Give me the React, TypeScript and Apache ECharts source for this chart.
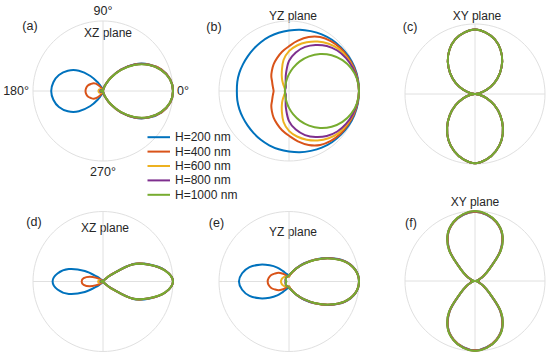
import React, { useEffect, useRef } from 'react';
import * as echarts from 'echarts';

const SERIES_NAMES = ['H=200 nm', 'H=400 nm', 'H=600 nm', 'H=800 nm', 'H=1000 nm'];
const COLORS = ['#0072BD', '#D95319', '#EDB120', '#7E2F8E', '#77AC30'];
const STEP = 10; // degrees between samples
const ANGLE_TICK_LABELS = ['0°', '90°', '180°', '270°'];

// Radii (0..1) at angles 0,10,...,180 deg (pattern symmetric about the 0-180 axis)
// (a) XZ plane
const A_BLUE = [1.0, 0.975, 0.89, 0.76, 0.595, 0.4, 0.22, 0.09, 0.02, 0.0, 0.01, 0.05, 0.13, 0.28, 0.45, 0.58, 0.67, 0.72, 0.74];
const A_ORANGE = [1.0, 0.975, 0.89, 0.755, 0.59, 0.4, 0.22, 0.09, 0.02, 0.0, 0.005, 0.02, 0.06, 0.12, 0.17, 0.2, 0.23, 0.245, 0.25];
const A_YELLOW = [1.0, 0.972, 0.885, 0.752, 0.585, 0.395, 0.215, 0.085, 0.02, 0.0, 0.005, 0.01, 0.02, 0.03, 0.04, 0.05, 0.06, 0.063, 0.065];
const A_PURPLE = [1.0, 0.971, 0.882, 0.751, 0.582, 0.392, 0.212, 0.082, 0.02, 0.0, 0.004, 0.008, 0.012, 0.018, 0.024, 0.03, 0.035, 0.038, 0.04];
const A_GREEN = [1.0, 0.97, 0.88, 0.75, 0.58, 0.39, 0.21, 0.08, 0.02, 0.0, 0.003, 0.006, 0.01, 0.014, 0.018, 0.022, 0.026, 0.028, 0.03];
// (b) YZ plane
const B_BLUE = [1.0, 1.0, 0.995, 0.985, 0.97, 0.955, 0.935, 0.91, 0.89, 0.865, 0.845, 0.825, 0.805, 0.785, 0.77, 0.76, 0.755, 0.75, 0.745];
const B_ORANGE = [1.0, 0.995, 0.985, 0.97, 0.955, 0.93, 0.89, 0.82, 0.73, 0.64, 0.57, 0.5, 0.44, 0.38, 0.33, 0.28, 0.25, 0.23, 0.22];
const B_YELLOW = [1.0, 0.99, 0.975, 0.955, 0.93, 0.88, 0.815, 0.74, 0.66, 0.57, 0.45, 0.3, 0.2, 0.13, 0.09, 0.07, 0.062, 0.06, 0.058];
const B_PURPLE = [1.0, 0.99, 0.97, 0.94, 0.9, 0.84, 0.76, 0.67, 0.56, 0.43, 0.25, 0.14, 0.09, 0.07, 0.062, 0.06, 0.058, 0.057, 0.056];
const B_GREEN = [1.0, 0.987, 0.947, 0.882, 0.795, 0.69, 0.572, 0.451, 0.336, 0.241, 0.172, 0.129, 0.101, 0.084, 0.073, 0.066, 0.061, 0.059, 0.058];
// (d) XZ plane
const D_BLUE = [1.0, 0.905, 0.71, 0.5, 0.155, 0.035, 0.01, 0.005, 0.003, 0.0, 0.003, 0.005, 0.01, 0.03, 0.1, 0.3, 0.52, 0.66, 0.72];
const D_ORANGE = [1.0, 0.903, 0.705, 0.495, 0.15, 0.033, 0.01, 0.005, 0.003, 0.0, 0.002, 0.004, 0.006, 0.01, 0.04, 0.1, 0.2, 0.28, 0.305];
const D_YELLOW = [1.0, 0.902, 0.703, 0.49, 0.145, 0.032, 0.01, 0.005, 0.003, 0.0, 0.002, 0.003, 0.004, 0.005, 0.015, 0.03, 0.05, 0.065, 0.07];
const D_PURPLE = [1.0, 0.901, 0.701, 0.487, 0.142, 0.031, 0.01, 0.005, 0.003, 0.0, 0.002, 0.003, 0.004, 0.005, 0.01, 0.02, 0.03, 0.035, 0.037];
const D_GREEN = [1.0, 0.9, 0.7, 0.485, 0.14, 0.03, 0.01, 0.005, 0.003, 0.0, 0.002, 0.003, 0.004, 0.005, 0.008, 0.015, 0.022, 0.027, 0.03];
// (e) YZ plane
const E_BLUE = [1.0, 0.965, 0.85, 0.67, 0.49, 0.34, 0.225, 0.15, 0.11, 0.095, 0.1, 0.12, 0.17, 0.26, 0.36, 0.48, 0.6, 0.68, 0.715];
const E_ORANGE = [1.0, 0.962, 0.845, 0.665, 0.485, 0.335, 0.22, 0.14, 0.1, 0.07, 0.075, 0.085, 0.11, 0.15, 0.195, 0.23, 0.27, 0.295, 0.305];
const E_YELLOW = [1.0, 0.96, 0.842, 0.662, 0.482, 0.332, 0.22, 0.145, 0.1, 0.07, 0.068, 0.072, 0.08, 0.09, 0.098, 0.104, 0.109, 0.112, 0.115];
const E_PURPLE = [1.0, 0.96, 0.841, 0.661, 0.481, 0.331, 0.22, 0.15, 0.105, 0.085, 0.078, 0.074, 0.07, 0.066, 0.062, 0.058, 0.055, 0.052, 0.05];
const E_GREEN = [1.0, 0.96, 0.84, 0.66, 0.48, 0.33, 0.22, 0.15, 0.11, 0.09, 0.08, 0.075, 0.07, 0.065, 0.06, 0.055, 0.05, 0.04, 0.035];

// Radii at angles 0,10,...,90 deg (pattern symmetric about the 90-270 axis)
// (c) XY plane: upper lobe and lower lobe (all heights overlap)
const C_UPPER = [0.0, 0.065, 0.18, 0.32, 0.465, 0.605, 0.73, 0.83, 0.89, 0.92];
const C_LOWER = [0.0, 0.065, 0.18, 0.32, 0.47, 0.62, 0.76, 0.87, 0.95, 0.99];
// (f) XY plane
const F_BLUE = [0.05, 0.04, 0.06, 0.13, 0.265, 0.56, 0.77, 0.89, 0.96, 0.99];
const F_ORANGE = [0.06, 0.045, 0.06, 0.135, 0.268, 0.565, 0.772, 0.892, 0.962, 0.99];
const F_YELLOW = [0.045, 0.035, 0.06, 0.138, 0.27, 0.57, 0.775, 0.895, 0.965, 0.995];
const F_PURPLE = [0.02, 0.025, 0.06, 0.14, 0.272, 0.575, 0.778, 0.898, 0.968, 0.998];
const F_GREEN = [0.0, 0.02, 0.06, 0.14, 0.275, 0.58, 0.78, 0.9, 0.97, 1.0];

// full circle radii (k*STEP for k = 0..35) from a 0..180 half
function fromHalf(half: number[]): number[] {
  const n = (half.length - 1) * 2;
  const out: number[] = [];
  for (let k = 0; k < n; k++) out.push(k <= half.length - 1 ? half[k] : half[n - k]);
  return out;
}
// full circle radii from upper and lower quarters (0..90)
function fromQuarters(up: number[], low: number[]): number[] {
  const q = up.length - 1;
  const out: number[] = [];
  for (let k = 0; k < 4 * q; k++) {
    if (k <= q) out.push(up[k]);
    else if (k <= 2 * q) out.push(up[2 * q - k]);
    else if (k <= 3 * q) out.push(low[k - 2 * q]);
    else out.push(low[4 * q - k]);
  }
  return out;
}
function loopPoints(rs: number[]): [number, number][] {
  return rs.map((r, k) => [r, k * STEP] as [number, number]);
}

const FONT = '"Liberation Sans", Arial, Helvetica, sans-serif';
const TEXT_COLOR = '#262626';
const GRID_COLOR = '#e0e0e0';

type Panel = {
  label: string;
  title: string;
  center: [number, number];
  titlePos: [number, number];
  labelPos: [number, number];
  radii: number[][];
  angleLabels: boolean;
};

const PANELS: Panel[] = [
  { label: '(a)', title: 'XZ plane', center: [103, 91], titlePos: [108, 33], labelPos: [30, 26], angleLabels: true,
    radii: [A_BLUE, A_ORANGE, A_YELLOW, A_PURPLE, A_GREEN].map(fromHalf) },
  { label: '(b)', title: 'YZ plane', center: [289, 91], titlePos: [293, 16], labelPos: [214, 27], angleLabels: false,
    radii: [B_BLUE, B_ORANGE, B_YELLOW, B_PURPLE, B_GREEN].map(fromHalf) },
  { label: '(c)', title: 'XY plane', center: [475, 94], titlePos: [477, 16], labelPos: [410, 26.5], angleLabels: false,
    radii: [0, 1, 2, 3, 4].map(() => fromQuarters(C_UPPER, C_LOWER)) },
  { label: '(d)', title: 'XZ plane', center: [103, 281.5], titlePos: [105, 228], labelPos: [34, 222], angleLabels: false,
    radii: [D_BLUE, D_ORANGE, D_YELLOW, D_PURPLE, D_GREEN].map(fromHalf) },
  { label: '(e)', title: 'YZ plane', center: [289, 281.5], titlePos: [293, 232], labelPos: [216.5, 223], angleLabels: false,
    radii: [E_BLUE, E_ORANGE, E_YELLOW, E_PURPLE, E_GREEN].map(fromHalf) },
  { label: '(f)', title: 'XY plane', center: [475, 281], titlePos: [475, 202], labelPos: [411, 223], angleLabels: false,
    radii: [F_BLUE, F_ORANGE, F_YELLOW, F_PURPLE, F_GREEN].map((a) => fromQuarters(a, a)) },
];

export default function App() {
  const ref = useRef<HTMLDivElement>(null);
  useEffect(() => {
    if (!ref.current) return;
    const chart = echarts.init(ref.current, undefined, { renderer: 'svg' });
    const polar = PANELS.map((p) => ({ center: p.center, radius: 70 }));
    const angleAxis = PANELS.map((p, i) => ({
      polarIndex: i,
      type: 'value',
      min: 0,
      max: 360,
      interval: 90,
      startAngle: 0,
      clockwise: false,
      axisLine: { show: true, lineStyle: { color: GRID_COLOR, width: 1 } },
      axisTick: { show: false },
      axisLabel: {
        show: p.angleLabels,
        margin: 4,
        fontSize: 12.5,
        fontFamily: FONT,
        color: TEXT_COLOR,
        formatter: (v: number) => (v >= 360 ? '' : ANGLE_TICK_LABELS[Math.round(v / 90)]),
      },
      splitLine: { show: true, lineStyle: { color: GRID_COLOR, width: 1 } },
    }));
    const radiusAxis = PANELS.map((_, i) => ({
      polarIndex: i,
      type: 'value',
      min: 0,
      max: 1,
      show: false,
    }));
    const series: any[] = [];
    PANELS.forEach((p, pi) => {
      p.radii.forEach((rs, si) => {
        const pts = loopPoints(rs);
        const color = COLORS[si];
        series.push({
          type: 'custom',
          name: SERIES_NAMES[si],
          coordinateSystem: 'polar',
          polarIndex: pi,
          data: pts,
          silent: true,
          itemStyle: { color },
          z: 2 + si,
          renderItem: (params: any, api: any) => {
            if (params.dataIndex !== 0) return null;
            const points = pts.map((d) => api.coord(d));
            return {
              type: 'polygon',
              shape: { points, smooth: 0.35 },
              style: { fill: 'none', stroke: color, lineWidth: 2 },
              silent: true,
            };
          },
        });
      });
    });
    const graphic: any[] = [];
    PANELS.forEach((p) => {
      graphic.push({
        type: 'text', x: p.titlePos[0], y: p.titlePos[1],
        style: { text: p.title, fill: TEXT_COLOR, font: `12px ${FONT}`, textAlign: 'center', textVerticalAlign: 'middle' },
      });
      graphic.push({
        type: 'text', x: p.labelPos[0], y: p.labelPos[1],
        style: { text: p.label, fill: TEXT_COLOR, font: `12.5px ${FONT}`, textAlign: 'center', textVerticalAlign: 'middle' },
      });
    });
    chart.setOption({
      animation: false,
      backgroundColor: '#ffffff',
      polar,
      angleAxis,
      radiusAxis,
      legend: {
        data: SERIES_NAMES,
        orient: 'vertical',
        left: 147.5,
        top: 130,
        padding: 0,
        itemGap: 0,
        itemWidth: 22.5,
        itemHeight: 2,
        icon: 'rect',
        selectedMode: false,
        textStyle: { fontSize: 12, fontFamily: FONT, color: TEXT_COLOR, lineHeight: 14.4 },
      },
      graphic,
      series,
    });
    return () => chart.dispose();
  }, []);
  return (
    <div
      ref={ref}
      style={{ position: 'fixed', left: 0, top: 0, width: 550, height: 357, background: '#fff' }}
    />
  );
}
